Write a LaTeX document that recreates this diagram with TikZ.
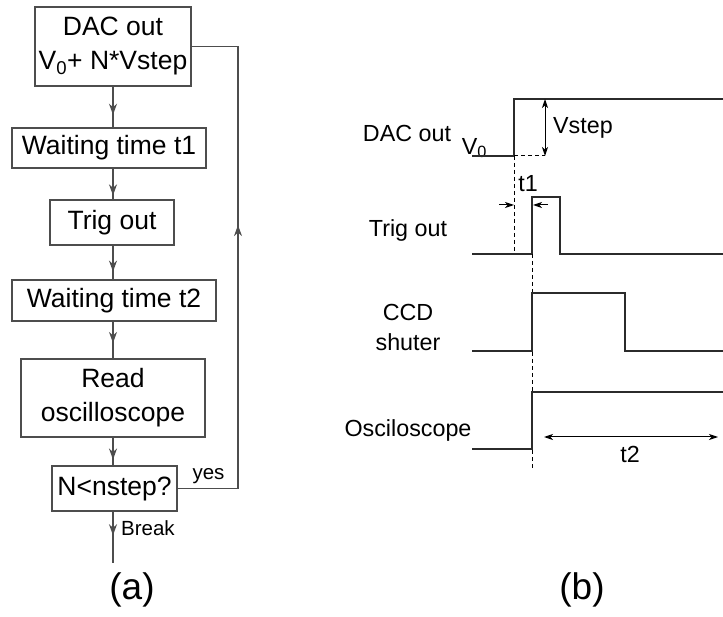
\documentclass[tikz,border=0pt]{standalone}
\usepackage{fontspec}
\setmainfont{Liberation Sans}
\usetikzlibrary{arrows.meta,decorations.markings,calc}
\definecolor{flowgray}{HTML}{4D4D4D}
\definecolor{sigdark}{HTML}{2B2B2B}
\tikzset{
  flowbox/.style={draw=flowgray, line width=1.3pt, align=center, inner sep=0pt, font=\fontsize{26.5}{34}\selectfont},
  flowline/.style={draw=flowgray, line width=1.3pt},
  midarrow/.style={postaction={decorate}, decoration={markings, mark=at position #1 with {\arrow{Stealth[length=11pt,width=8pt,inset=3.5pt]}}}},
  smalllabel/.style={inner sep=0pt, font=\fontsize{20.5}{24}\selectfont},
  siglabel/.style={align=center, inner sep=0pt, font=\fontsize{23.3}{30}\selectfont},
  signal/.style={draw=sigdark, line width=1.3pt},
  guide/.style={draw=black, line width=1pt, dash pattern=on 4pt off 3pt},
  dimarrow/.style={{Stealth[length=9pt,width=6pt,inset=2.5pt]}-{Stealth[length=9pt,width=6pt,inset=2.5pt]}, draw=black, line width=1pt},
  tiparrow/.style={-{Stealth[length=9pt,width=6pt,inset=2.5pt]}, draw=black, line width=1pt},
  caption/.style={inner sep=0pt, font=\fontsize{37}{44}\selectfont}
}

\begin{document}
\begin{tikzpicture}[x=1pt, y=-1pt]
  \useasboundingbox (0,0) rectangle (723,617);

  % (a) flow chart
  \node[flowbox, minimum width=156pt, minimum height=79pt] (dac) at (113,46.5) {DAC out\\V\textsubscript{0}+ N*Vstep};
  \node[flowbox, minimum width=194pt, minimum height=40pt] (wait1) at (109,148) {Waiting time t1};
  \node[flowbox, minimum width=124pt, minimum height=45pt] (trig) at (112,222.5) {Trig out};
  \node[flowbox, minimum width=204pt, minimum height=41pt] (wait2) at (114,300.5) {Waiting time t2};
  \node[flowbox, minimum width=184pt, minimum height=78pt] (read) at (113,398) {Read\\oscilloscope};
  \node[flowbox, minimum width=125pt, minimum height=45pt] (test) at (114.5,488.5) {N<nstep?};
  \coordinate (loopx) at (238,0);
  \coordinate (brk) at (113,563);

  \draw[flowline, midarrow=0.69] (dac.south) -- (dac.south |- wait1.north);
  \draw[flowline, midarrow=0.87] (dac.south |- wait1.south) -- (dac.south |- trig.north);
  \draw[flowline, midarrow=0.77] (dac.south |- trig.south) -- (dac.south |- wait2.north);
  \draw[flowline, midarrow=0.58] (dac.south |- wait2.south) -- (dac.south |- read.north);
  \draw[flowline, midarrow=0.79] (dac.south |- read.south) -- (dac.south |- test.north);
  \draw[flowline, midarrow=0.46] (dac.south |- test.south) -- (brk);
  \draw[flowline, midarrow=0.59] (test.east) -| (loopx |- dac.east) -- (dac.east);

  \node[smalllabel, anchor=west] (brklbl) at (121,528) {Break};
  \node[smalllabel] (yeslbl) at (208.5,476) {yes};

  % (b) timing
  \node[siglabel] (daclbl) at (407,133) {DAC out};
  \node[siglabel] (vzero) at (474.5,148) {V\textsubscript{0}};
  \node[siglabel, anchor=west] (vsteplbl) at (553,128) {Vstep};
  \node[siglabel] (tonelbl) at (528,184) {t1};
  \node[siglabel] (triglbl) at (408,230) {Trig out};
  \node[siglabel] (ccdlbl) at (408,327) {CCD\\shuter};
  \node[siglabel] (osclbl) at (408,430) {Osciloscope};
  \node[siglabel] (ttwolbl) at (630,454) {t2};

  \draw[signal] (472,156) -- (514,156) |- (723,99);
  \draw[guide] (514,156) -- (545,156);
  \draw[guide] (514,156) -- (514,254);
  \draw[dimarrow] (545,99) -- (545,156);

  \draw[signal] (472,254) -- (532,254) -- (532,197) -- (560,197) -- (560,254) -- (723,254);
  \draw[guide] (532,254) -- (532,468);
  \draw[tiparrow] (499,205) -- (514,205);
  \draw[tiparrow] (548,205) -- (533,205);

  \draw[signal] (472,351) -- (532,351) -- (532,293) -- (625,293) -- (625,351) -- (723,351);
  \draw[signal] (472,449) -- (532,449) -- (532,392) -- (723,392);
  \draw[dimarrow] (544,437) -- (718,437);

  \node[caption] (capa) at (132,590) {(a)};
  \node[caption] (capb) at (582,590) {(b)};
\end{tikzpicture}
\end{document}
